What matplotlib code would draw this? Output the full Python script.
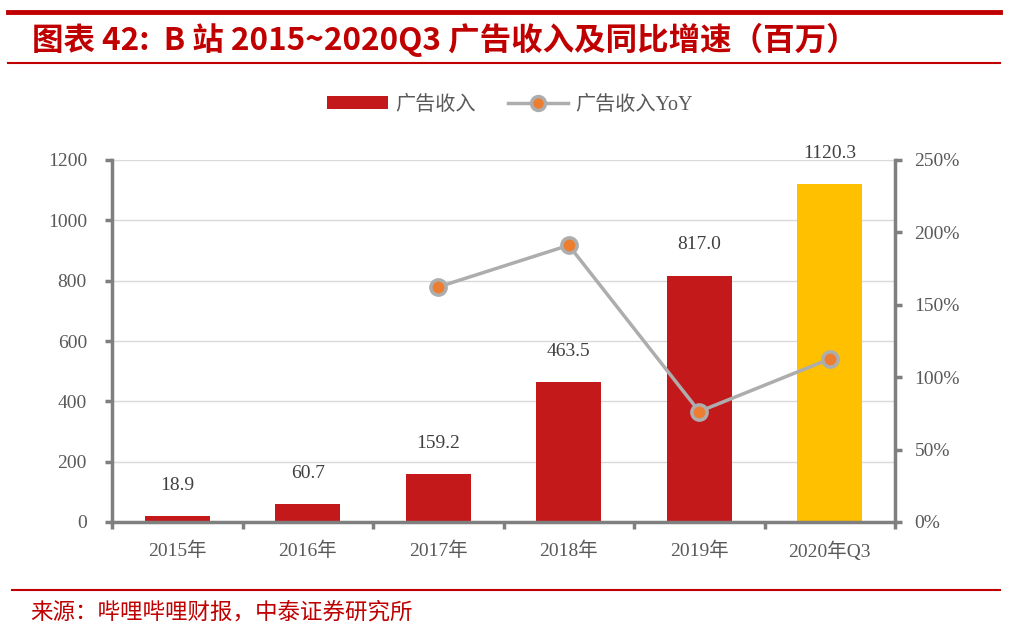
import matplotlib
matplotlib.use("Agg")
import matplotlib.pyplot as plt
from matplotlib.lines import Line2D
from matplotlib.patches import Patch
import numpy as np

categories = ["2015年", "2016年", "2017年", "2018年", "2019年", "2020年Q3"]
ad_revenue = [18.9, 60.7, 159.2, 463.5, 817.0, 1120.3]
yoy_pct = [None, None, 162.3, 191.1, 76.3, 112.6]
left_ticks = [0, 200, 400, 600, 800, 1000, 1200]
right_ticks = [0, 50, 100, 150, 200, 250]

serif = ["Liberation Serif", "Noto Sans CJK SC"]
cjk = ["Noto Sans CJK SC", "DejaVu Sans"]
txt_color = "#595959"
red = "#C4191B"
yellow = "#FFC000"
gray_line = "#ADADAD"
orange = "#ED7D31"
spine_gray = "#7F7F7F"
fs = 14

fig = plt.figure(figsize=(10.25, 6.4), dpi=100)

# header lines and title
fig.add_artist(Line2D([8/1025, 1000/1025], [1-12/640, 1-12/640], color="#C00000", lw=3.5))
fig.add_artist(Line2D([8/1025, 1000/1025], [1-63/640, 1-63/640], color="#C00000", lw=1.5))
fig.text(32/1025, 1-40/640, "图表 42:  B 站 2015~2020Q3 广告收入及同比增速（百万）",
         family=cjk, fontsize=22.7, fontweight="bold", style="italic",
         color="#C00000", va="center", ha="left")
fig.add_artist(Line2D([12/1025, 1000/1025], [1-590/640, 1-590/640], color="#C00000", lw=1.5))
fig.text(30/1025, 1-612/640, "来源：哔哩哔哩财报，中泰证券研究所",
         family=cjk, fontsize=16.2, color="#C00000", va="center", ha="left")

ax = fig.add_axes([112/1025, 1-522/640, (895-112)/1025, (522-160)/640])
x = np.arange(len(categories))
colors = [red] * (len(categories) - 1) + [yellow]
ax.bar(x, ad_revenue, width=0.5, color=colors, zorder=2)
ax.set_xlim(-0.5, len(categories) - 0.5)
ax.set_ylim(0, 1200)
ax.set_yticks(left_ticks)
ax.set_yticklabels([str(v) for v in left_ticks], family=serif, fontsize=fs, color=txt_color)
ax.yaxis.grid(True, color="#D9D9D9", lw=1, zorder=0)
ax.set_axisbelow(True)
ax.set_xticks(x)
ax.set_xticklabels(categories, family=serif, fontsize=fs, color=txt_color)
ax.set_xticks(np.arange(-0.5, len(categories)), minor=True)
ax.tick_params(axis="x", which="major", length=0, pad=14)
ax.tick_params(axis="x", which="minor", length=5, width=2.5, color=spine_gray)
ax.tick_params(axis="y", length=5, width=2.5, color=spine_gray, pad=13)
for s in ["top", "right"]:
    ax.spines[s].set_visible(False)
for s in ["left", "bottom"]:
    ax.spines[s].set_color(spine_gray)
    ax.spines[s].set_linewidth(2.5)

for xi, v in zip(x, ad_revenue):
    ax.annotate(f"{v:.1f}", (xi, v), xytext=(0, 22), textcoords="offset points",
                ha="center", va="center", family=serif, fontsize=fs, color="#404040")

ax2 = ax.twinx()
ax2.set_ylim(0, 250)
xs = [xi for xi, v in zip(x, yoy_pct) if v is not None]
ys = [v for v in yoy_pct if v is not None]
ax2.plot(xs, ys, color=gray_line, lw=2.5, marker="o", markersize=11,
         markerfacecolor=orange, markeredgecolor=gray_line, markeredgewidth=2.5, zorder=3)
ax2.set_yticks(right_ticks)
ax2.set_yticklabels([f"{v}%" for v in right_ticks], family=serif, fontsize=fs, color=txt_color)
ax2.tick_params(axis="y", length=5, width=2.5, color=spine_gray, pad=9)
for s in ["top", "left", "bottom"]:
    ax2.spines[s].set_visible(False)
ax2.spines["right"].set_color(spine_gray)
ax2.spines["right"].set_linewidth(2.5)

handles = [Patch(facecolor=red, edgecolor="none"),
           Line2D([0], [0], color=gray_line, lw=2.5, marker="o", markersize=10,
                  markerfacecolor=orange, markeredgecolor=gray_line, markeredgewidth=2.5)]
leg = fig.legend(handles, ["广告收入", "广告收入YoY"], loc="center",
                 bbox_to_anchor=(510/1025, 1-105/640), ncol=2, frameon=False,
                 prop={"family": serif, "size": 14.5}, handlelength=3.0, handleheight=0.6,
                 columnspacing=1.6, handletextpad=0.35)
for t in leg.get_texts():
    t.set_color(txt_color)

fig.savefig("out.png", dpi=100)
